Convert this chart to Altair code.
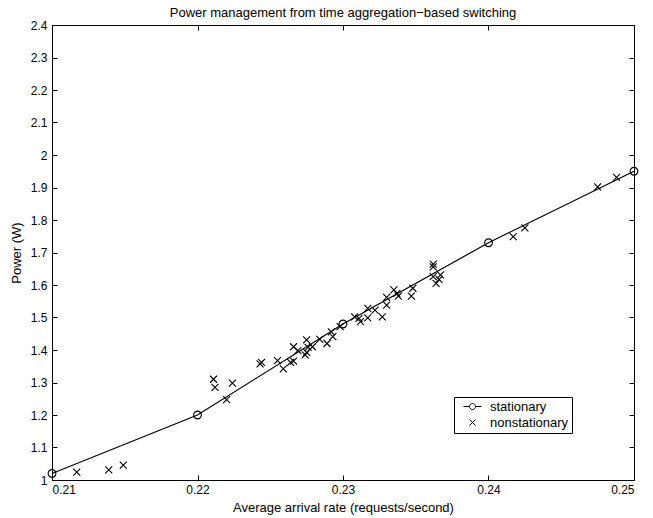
import altair as alt
import pandas as pd

stat_x = [0.21, 0.22, 0.23, 0.24, 0.25]
stat_y = [1.02, 1.20, 1.48, 1.73, 1.95]

non_x = [0.2117, 0.2139, 0.2149, 0.2211, 0.2212, 0.2224, 0.2220, 0.2243, 0.2244, 0.2255,
         0.2259, 0.2264, 0.2266, 0.2266, 0.2269, 0.2275, 0.2274, 0.2275, 0.2276, 0.2279,
         0.2284, 0.2289, 0.2292, 0.2293, 0.2298, 0.2308, 0.2311, 0.2312, 0.2317, 0.2317,
         0.2322, 0.2327, 0.2330, 0.2330, 0.2335, 0.2337, 0.2338, 0.2348, 0.2347, 0.2362,
         0.2362, 0.2362, 0.2367, 0.2366, 0.2364, 0.2417, 0.2425, 0.2475, 0.2488]
non_y = [1.024, 1.031, 1.046, 1.310, 1.285, 1.298, 1.247, 1.357, 1.362, 1.367,
         1.342, 1.362, 1.366, 1.410, 1.398, 1.431, 1.385, 1.393, 1.408, 1.410,
         1.433, 1.420, 1.456, 1.441, 1.472, 1.502, 1.497, 1.487, 1.528, 1.499,
         1.523, 1.502, 1.538, 1.562, 1.585, 1.574, 1.566, 1.590, 1.566, 1.664,
         1.656, 1.626, 1.631, 1.617, 1.605, 1.749, 1.776, 1.902, 1.931]

x_ticks = [0.21, 0.22, 0.23, 0.24, 0.25]
y_ticks = [1.0, 1.1, 1.2, 1.3, 1.4, 1.5, 1.6, 1.7, 1.8, 1.9, 2.0, 2.1, 2.2, 2.3, 2.4]

stat_df = pd.DataFrame({"rate": stat_x, "power": stat_y, "series": "stationary"})
non_df = pd.DataFrame({"rate": non_x, "power": non_y, "series": "nonstationary"})

FONT = "Liberation Sans"
X_PATH = "M-1,-1L1,1M1,-1L-1,1"
LC_PATH = "M-3,0H-1M1,0H3M-1,0A1,1 0 1,1 1,0A1,1 0 1,1 -1,0"

xscale = alt.Scale(domain=[0.21, 0.25], nice=False, zero=False)
yscale = alt.Scale(domain=[1.0, 2.4], nice=False, zero=False)

common_axis = dict(offset=-5, tickSize=5, domain=False, grid=False, tickColor="black",
                   labelColor="black", titleColor="black", labelFont=FONT, titleFont=FONT,
                   labelFontSize=12, titleFontSize=13, titleFontWeight="normal")

x_main = alt.X("rate:Q", scale=xscale,
               axis=alt.Axis(values=x_ticks, format=".2f", orient="bottom",
                             title="Average arrival rate (requests/second)",
                             labelPadding=4, titlePadding=6, **common_axis))
y_main = alt.Y("power:Q", scale=yscale,
               axis=alt.Axis(values=y_ticks, format=".1~f", orient="left",
                             title="Power (W)", labelPadding=5, titlePadding=7, **common_axis))

x_plain = alt.X("rate:Q", scale=xscale, axis=None)
y_plain = alt.Y("power:Q", scale=yscale, axis=None)

line = alt.Chart(stat_df).mark_line(color="black", strokeWidth=1.2).encode(x=x_main, y=y_main)

circles = alt.Chart(stat_df).mark_point(shape="circle", filled=False, color="black",
                                        size=60, strokeWidth=1.1, opacity=1).encode(x=x_plain, y=y_plain)

crosses = alt.Chart(non_df).mark_point(filled=False, color="black", size=49,
                                       strokeWidth=1.1, opacity=1).encode(
    x=x_plain, y=y_plain,
    shape=alt.Shape("series:N",
                    scale=alt.Scale(domain=["stationary", "nonstationary"],
                                    range=[LC_PATH, X_PATH]),
                    legend=alt.Legend(title=None, orient="none", legendX=402, legendY=372,
                                      strokeColor="black", fillColor="white", padding=3,
                                      cornerRadius=0, symbolSize=36, symbolStrokeWidth=1,
                                      symbolStrokeColor="black", symbolFillColor="transparent",
                                      symbolOffset=9, labelOffset=11, rowPadding=2,
                                      labelFont=FONT, labelFontSize=13, labelColor="black")))

frame_axes = alt.Chart(stat_df).mark_point(opacity=0).encode(
    x=alt.X("rate:Q", scale=xscale,
            axis=alt.Axis(values=x_ticks, orient="top", labels=False, title=None,
                          offset=-5, tickSize=5, domain=False, grid=False, tickColor="black")),
    y=alt.Y("power:Q", scale=yscale,
            axis=alt.Axis(values=y_ticks, orient="right", labels=False, title=None,
                          offset=-5, tickSize=5, domain=False, grid=False, tickColor="black")))

chart = alt.layer(line, circles, crosses, frame_axes).resolve_axis(
    x="independent", y="independent"
).properties(
    width=582, height=455,
    autosize=alt.AutoSizeParams(type="none"),
    padding={"left": 52, "top": 25, "right": 19, "bottom": 38},
    title=alt.Title("Power management from time aggregation\u2212based switching",
                    font=FONT, fontSize=13, fontWeight="normal", color="black", offset=-1),
    background="white",
).configure_view(stroke="black", strokeWidth=1)

chart.save("out.html", embed_options={"renderer": "svg", "actions": False})
